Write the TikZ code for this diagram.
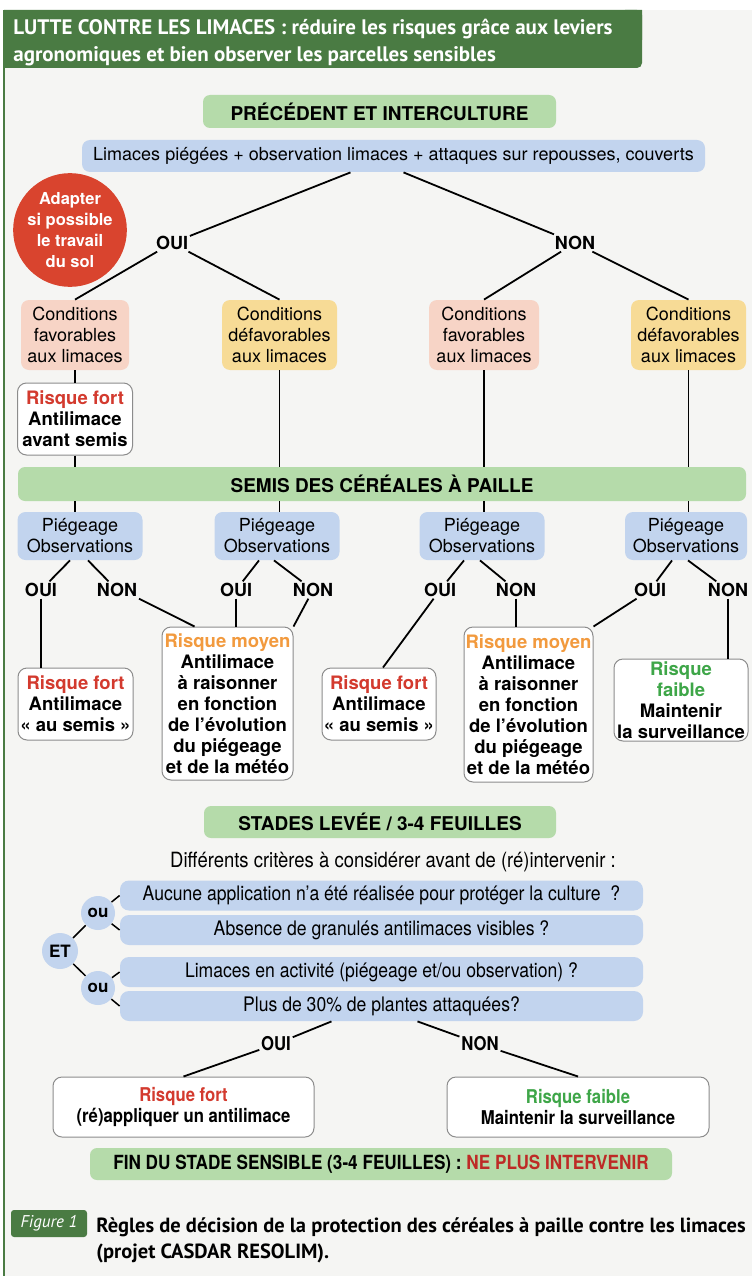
\documentclass[tikz,border=0pt]{standalone}
\usepackage{fontspec}
\usepackage{xcolor}
\usetikzlibrary{positioning}
\usetikzlibrary{arrows}
\usetikzlibrary{calc}
\setmainfont{TeX Gyre Heros}
\newfontfamily\headfont{PT Sans}
\newfontfamily\narrowfont{TeX Gyre Heros}[FakeStretch=0.88]
\definecolor{panel}{HTML}{F5F5F3}
\definecolor{darkgreen}{HTML}{4A7B43}
\definecolor{lightgreen}{HTML}{B5DBAA}
\definecolor{lightblue}{HTML}{C2D4EE}
\definecolor{pinkc}{HTML}{F7D4C6}
\definecolor{yellowc}{HTML}{F7DB96}
\definecolor{redc}{HTML}{D9442E}
\definecolor{riskred}{HTML}{D33A2E}
\definecolor{riskorange}{HTML}{F29A3E}
\definecolor{riskgreen}{HTML}{3EA648}
\definecolor{finred}{HTML}{BE2A26}
\definecolor{bordergray}{HTML}{8C8C8C}
\newcommand{\bodysize}{\fontsize{18}{21}\selectfont}
\newcommand{\boldsize}{\fontsize{18.5}{21}\selectfont}

\begin{document}
\begin{tikzpicture}[x=1pt, y=-1pt, thick,
                    conn/.style={line width=1.8pt},
                    title node/.style={fill=lightgreen, rounded corners=7pt, inner sep=0pt, font=\bfseries\fontsize{19}{22}\selectfont},
                    info node/.style={fill=lightblue, rounded corners=8pt, inner sep=0pt, align=center, font=\bodysize},
                    cond node/.style={rounded corners=8pt, minimum height=70, inner sep=0pt, align=center, font=\bodysize},
                    risk node/.style={draw=bordergray, line width=1pt, fill=white, rounded corners=9pt, inner sep=0pt, align=center, font=\bfseries\boldsize},
                    yes node/.style={inner sep=1.5pt, font=\bfseries\fontsize{18}{20}\selectfont},
                    crit node/.style={fill=lightblue, rounded corners=9pt, minimum width=523, minimum height=30, inner sep=0pt, font=\narrowfont\fontsize{20}{22}\selectfont},
                    op node/.style={circle, fill=lightblue, minimum size=34, inner sep=0pt, font=\bfseries\fontsize{17}{18}\selectfont}]
\useasboundingbox (0,0) rectangle (752,1276);
\fill[panel] (4,10) rectangle (752,1276);
\draw[darkgreen, line width=1.5pt] (4,10) -- (4,1276);
\fill[darkgreen] (4,10) rectangle (630,68) (620,10) rectangle (642,40);
\fill[darkgreen, rounded corners=5pt] (620,10) rectangle (642,68);
\node[anchor=base west, inner sep=0pt, text=white, font=\headfont\bfseries\fontsize{21}{26}\selectfont] (h1) at (13,35) {LUTTE CONTRE LES LIMACES : réduire les risques grâce aux leviers};
\node[anchor=base west, inner sep=0pt, text=white, font=\headfont\bfseries\fontsize{21}{26}\selectfont] (h2) at (13,62) {agronomiques et bien observer les parcelles sensibles};

\node[title node, minimum width=353, minimum height=33] (1) at (379.5,111.5) {PRÉCÉDENT ET INTERCULTURE};
\node[info node, minimum width=623, minimum height=32] (2) at (393.5,156) {Limaces piégées + observation limaces + attaques sur repousses, couverts};
\node[circle, fill=redc, minimum size=105, inner sep=0pt, text=white, align=center, font=\bfseries\fontsize{16.5}{21}\selectfont] (3) at (70,230) {Adapter\\si possible\\le travail\\du sol};
\node[yes node] (4) at (172,243) {OUI};
\node[yes node] (5) at (575,243) {NON};

\node[cond node, fill=pinkc, minimum width=108] (6) at (75,335) {Conditions\\favorables\\aux limaces};
\node[cond node, fill=yellowc, minimum width=115] (7) at (279.5,335) {Conditions\\défavorables\\aux limaces};
\node[cond node, fill=pinkc, minimum width=110] (8) at (484,335) {Conditions\\favorables\\aux limaces};
\node[cond node, fill=yellowc, minimum width=115] (9) at (688.5,335) {Conditions\\défavorables\\aux limaces};
\node[risk node, minimum width=115, minimum height=72] (10) at (75,419) {\textcolor{riskred}{Risque fort}\\Antilimace\\avant semis};

\node[title node, minimum width=728, minimum height=34] (11) at (382,484) {SEMIS DES CÉRÉALES À PAILLE};
\node[info node, minimum width=125, minimum height=48] (12) at (80,536) {Piégeage\\Observations};
\node[info node, minimum width=125, minimum height=48] (13) at (277,536) {Piégeage\\Observations};
\node[info node, minimum width=125, minimum height=48] (14) at (482,536) {Piégeage\\Observations};
\node[info node, minimum width=122, minimum height=48] (15) at (686,536) {Piégeage\\Observations};

\node[yes node] (16) at (41,590) {OUI};
\node[yes node] (17) at (117,590) {NON};
\node[yes node] (18) at (236,590) {OUI};
\node[yes node] (19) at (313,590) {NON};
\node[yes node] (20) at (440,590) {OUI};
\node[yes node] (21) at (516,590) {NON};
\node[yes node] (22) at (650,590) {OUI};
\node[yes node] (23) at (728,590) {NON};

\node[risk node, minimum width=115, minimum height=72] (24) at (75.5,704) {\textcolor{riskred}{Risque fort}\\Antilimace\\«~au semis~»};
\node[risk node, minimum width=131, minimum height=153] (25) at (227.5,703.5) {\textcolor{riskorange}{Risque moyen}\\Antilimace\\à raisonner\\en fonction\\de l’évolution\\du piégeage\\et de la météo};
\node[risk node, minimum width=114, minimum height=72] (26) at (379,704) {\textcolor{riskred}{Risque fort}\\Antilimace\\«~au semis~»};
\node[risk node, minimum width=129, minimum height=155] (27) at (528.5,704.5) {\textcolor{riskorange}{Risque moyen}\\Antilimace\\à raisonner\\en fonction\\de l’évolution\\du piégeage\\et de la météo};
\node[risk node, minimum width=134, minimum height=82] (28) at (681,700) {\textcolor{riskgreen}{Risque}\\\textcolor{riskgreen}{faible}\\Maintenir\\la surveillance};

\node[title node, minimum width=352, minimum height=32] (29) at (380,822) {STADES LEVÉE / 3-4 FEUILLES};
\node[font=\narrowfont\fontsize{21}{24}\selectfont] (30) at (393,862) {Différents critères à considérer avant de (ré)intervenir :};
\node[crit node] (31) at (381.5,895.5) {Aucune application n’a été réalisée pour protéger la culture~~?};
\node[crit node] (32) at (381.5,930) {Absence de granulés antilimaces visibles ?};
\node[crit node] (33) at (381.5,972) {Limaces en activité (piégeage et/ou observation) ?};
\node[crit node] (34) at (381.5,1006) {Plus de 30\% de plantes attaquées?};
\node[op node] (35) at (98,913) {ou};
\node[op node, minimum size=36] (36) at (60,951) {ET};
\node[op node] (37) at (98,988) {ou};

\node[yes node, font=\narrowfont\bfseries\fontsize{19}{20}\selectfont] (38) at (276,1044) {OUI};
\node[yes node, font=\narrowfont\bfseries\fontsize{19}{20}\selectfont] (39) at (480,1044) {NON};
\node[risk node, minimum width=261, minimum height=60, font=\narrowfont\bfseries\fontsize{19}{21}\selectfont] (40) at (183.5,1107) {\textcolor{riskred}{Risque fort}\\(ré)appliquer un antilimace};
\node[risk node, minimum width=262, minimum height=60, font=\narrowfont\bfseries\fontsize{19}{21}\selectfont] (41) at (578,1107) {\textcolor{riskgreen}{Risque faible}\\Maintenir la surveillance};
\node[title node, minimum width=582, minimum height=32, font=\narrowfont\bfseries\fontsize{19.5}{22}\selectfont] (42) at (381,1164) {FIN DU STADE SENSIBLE (3-4 FEUILLES) : \textcolor{finred}{NE PLUS INTERVENIR}};

\node[fill=darkgreen, rounded corners=3pt, minimum width=76, minimum height=27, inner sep=0pt, text=white, font=\headfont\itshape\fontsize{17}{18}\selectfont] (43) at (49,1223.5) {Figure 1};
\node[anchor=base west, inner sep=0pt, font=\headfont\bfseries\fontsize{20.5}{25}\selectfont] (44) at (96,1232) {Règles de décision de la protection des céréales à paille contre les limaces};
\node[anchor=base west, inner sep=0pt, font=\headfont\bfseries\fontsize{20.5}{25}\selectfont] (45) at (96,1258) {(projet CASDAR RESOLIM).};

\path[conn]
  ([xshift=-43pt]2.south) edge (4)
  ([xshift=10pt]2.south) edge (5)
  (4) edge (6.north)
      edge (7.north)
  (5) edge (8.north)
      edge (9.north)
  (6) edge (10)
  (10) edge (10 |- 11.north)
  (7) edge (7 |- 11.north)
  (8) edge (8 |- 11.north)
  (9) edge (9 |- 11.north)
  (11.south -| 10) edge (12.north -| 10)
  (11.south -| 7) edge (13.north -| 7)
  (11.south -| 8) edge (14.north -| 8)
  (11.south -| 9) edge (15.north -| 9);

\path[conn]
  ([xshift=-10pt]12.south) edge (16)
  ([xshift=8pt]12.south) edge (17)
  ([xshift=-18pt]13.south) edge (18)
  ([xshift=-3pt]13.south) edge (19)
  ([xshift=-18pt]14.south) edge (20)
  ([xshift=-2pt]14.south) edge (21)
  ([xshift=-14pt]15.south) edge (22)
  ([xshift=2pt]15.south) edge (23)
  (16) edge (16 |- 24.north)
  (17.south east) edge ([xshift=-33pt]25.north)
  (18) edge (18 |- 25.north)
  (19) edge (25.north east)
  (20) edge ([xshift=4pt]26.north)
  (21) edge (21 |- 27.north)
  (22) edge (27.north east)
  (23) edge (23 |- 28.north);

\path[line width=1.5pt]
  (36) edge (35)
       edge (37)
  (35) edge (31.west)
       edge (32.west)
  (37) edge (33.west)
       edge (34.west);

\path[conn]
  ([xshift=-50pt]34.south) edge (38)
  ([xshift=36pt]34.south) edge (39)
  (38) edge (40.north)
  (39) edge (41.north);
\end{tikzpicture}
\end{document}
